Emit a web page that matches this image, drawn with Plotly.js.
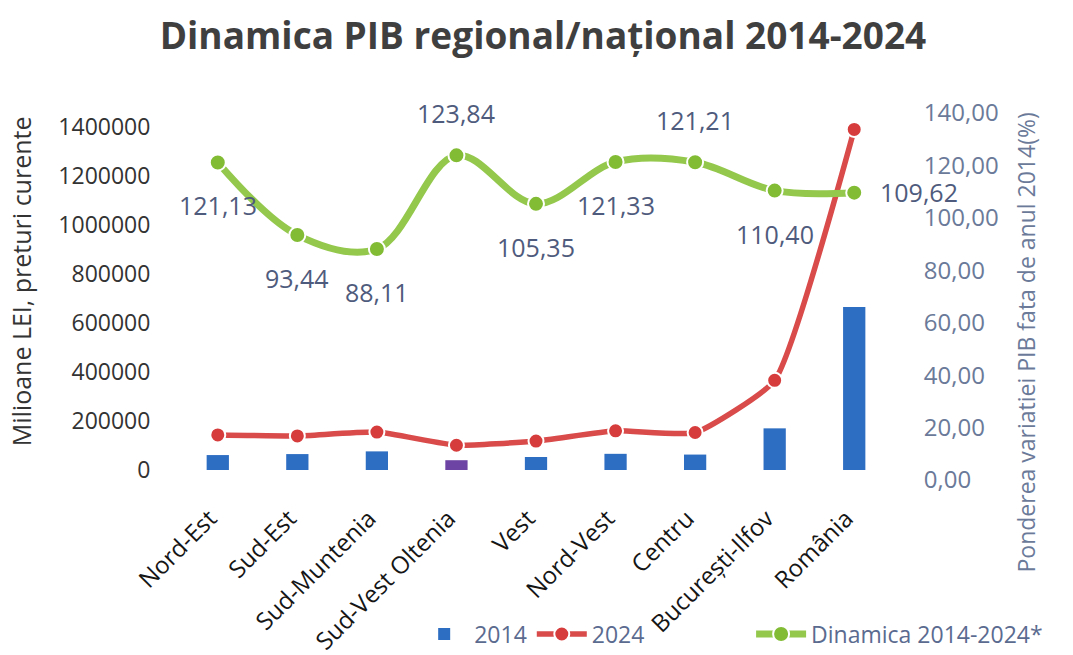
<!DOCTYPE html>
<html>
<head>
<meta charset="utf-8">
<script src="https://cdn.plot.ly/plotly-3.0.1.min.js"></script>
<style>
  html, body { margin: 0; padding: 0; background: #ffffff; }
  #chart { width: 1073px; height: 655px; }
</style>
</head>
<body>
<div id="chart"></div>
<script>
// ---- Data ----
const categories = ['Nord-Est', 'Sud-Est', 'Sud-Muntenia', 'Sud-Vest Oltenia', 'Vest',
                    'Nord-Vest', 'Centru', 'București-Ilfov', 'România'];
const pib2014 = [61000, 65000, 76000, 40000, 53000, 66000, 63000, 170000, 665000];
const pib2024 = [143000, 139000, 155000, 101000, 118000, 160000, 153000, 366000, 1390000];
const dinamica = [121.13, 93.44, 88.11, 123.84, 105.35, 121.33, 121.21, 110.40, 109.62];
const leftTicks = [0, 200000, 400000, 600000, 800000, 1000000, 1200000, 1400000];
const rightTicks = [0, 20, 40, 60, 80, 100, 120, 140];
const labelSide = ['below', 'below', 'below', 'above', 'below', 'below', 'above', 'below', 'right'];

// ---- Styles ----
const barColors = categories.map((c, i) => i === 3 ? '#6d44a3' : '#2d6dc2');
const slate = '#6b7a99';
const labelSlate = '#4f5b7c';
const font = '"Open Sans", "Liberation Sans", sans-serif';

const traces = [
  {
    type: 'bar', name: '2014', x: categories, y: pib2014,
    xaxis: 'x', yaxis: 'y',
    marker: { color: barColors },
    width: 0.28,
    legend: 'legend'
  },
  {
    type: 'scatter', mode: 'lines+markers', name: '2024', x: categories, y: pib2024,
    xaxis: 'x', yaxis: 'y', cliponaxis: false,
    line: { color: '#d94a4a', width: 5.5, shape: 'spline', smoothing: 0.45 },
    marker: { color: '#d63c3c', size: 15, line: { color: '#ffffff', width: 2 } },
    legend: 'legend'
  },
  {
    type: 'scatter', mode: 'lines+markers', name: 'Dinamica 2014-2024*', x: categories, y: dinamica,
    xaxis: 'x', yaxis: 'y2', cliponaxis: false,
    line: { color: '#93c84c', width: 7, shape: 'spline', smoothing: 1 },
    marker: { color: '#82bb34', size: 16, line: { color: '#ffffff', width: 2 } },
    legend: 'legend2'
  }
];

const annotations = dinamica.map((v, i) => {
  const side = labelSide[i];
  return {
    x: categories[i], y: v, xref: 'x', yref: 'y2',
    text: v.toFixed(2).replace('.', ','),
    showarrow: false,
    font: { family: font, size: 25, color: labelSlate },
    xanchor: side === 'right' ? 'left' : 'center',
    yanchor: 'middle',
    xshift: side === 'right' ? 24 : 0,
    yshift: side === 'above' ? 42 : (side === 'below' ? -43 : 1)
  };
});

annotations.push({
  text: 'Milioane LEI, preturi curente',
  xref: 'paper', yref: 'paper', x: -0.219, y: 0.602,
  showarrow: false, textangle: -90,
  xanchor: 'center', yanchor: 'middle',
  font: { family: font, size: 25, color: '#333333' }
});
annotations.push({
  text: 'Ponderea variatiei PIB fata de anul 2014(%)',
  xref: 'paper', yref: 'paper', x: 1.185, y: 0.468,
  showarrow: false, textangle: -90,
  xanchor: 'center', yanchor: 'middle',
  font: { family: font, size: 23, color: slate }
});

const legendFont = { family: font, size: 23, color: '#5b6b90' };

const layout = {
  width: 1073, height: 655,
  paper_bgcolor: '#ffffff', plot_bgcolor: 'rgba(0,0,0,0)',
  separators: ', ',
  font: { family: font, color: '#333333' },
  margin: { l: 178, r: 179, t: 100, b: 100, autoexpand: false },
  title: {
    text: 'Dinamica PIB regional/național 2014-2024',
    font: { family: font, size: 37, color: '#3f3f3f', weight: 'bold' },
    x: 0.506, xref: 'container', xanchor: 'center',
    y: 0.945, yref: 'container', yanchor: 'middle'
  },
  showlegend: true,
  legend: {
    orientation: 'h',
    x: 0.386, xref: 'container', xanchor: 'left',
    y: 0.032, yref: 'container', yanchor: 'middle',
    font: legendFont, itemwidth: 50,
    bgcolor: 'rgba(0,0,0,0)'
  },
  legend2: {
    orientation: 'h',
    x: 0.700, xref: 'container', xanchor: 'left',
    y: 0.032, yref: 'container', yanchor: 'middle',
    font: legendFont, itemwidth: 50,
    bgcolor: 'rgba(0,0,0,0)'
  },
  bargap: 0.72,
  xaxis: {
    type: 'category', anchor: 'y', domain: [0, 1],
    range: [-0.5, 8.5],
    showgrid: false, zeroline: false, showline: false,
    ticks: 'outside', ticklen: 24, tickcolor: 'rgba(0,0,0,0)',
    ticklabelshift: -8,
    tickangle: -45,
    tickfont: { family: font, size: 24, color: '#151515' },
    automargin: false
  },
  yaxis: {
    domain: [0.18681, 0.94066], anchor: 'x',
    range: [0, 1400000],
    tickvals: leftTicks, tickformat: 'd',
    showgrid: false, zeroline: false, showline: false,
    ticks: 'outside', ticklen: 22, tickcolor: 'rgba(0,0,0,0)',
    tickfont: { family: font, size: 23, color: '#333333' },
    automargin: false
  },
  yaxis2: {
    domain: [0.16484, 0.97143], anchor: 'x', side: 'right',
    range: [0, 140],
    tickvals: rightTicks, tickformat: '.2f',
    showgrid: false, zeroline: false, showline: false,
    ticks: 'outside', ticklen: 24, tickcolor: 'rgba(0,0,0,0)',
    tickfont: { family: font, size: 24, color: slate },
    automargin: false
  },
  annotations: annotations
};

Plotly.newPlot('chart', traces, layout, { displayModeBar: false, staticPlot: true });
</script>
</body>
</html>
